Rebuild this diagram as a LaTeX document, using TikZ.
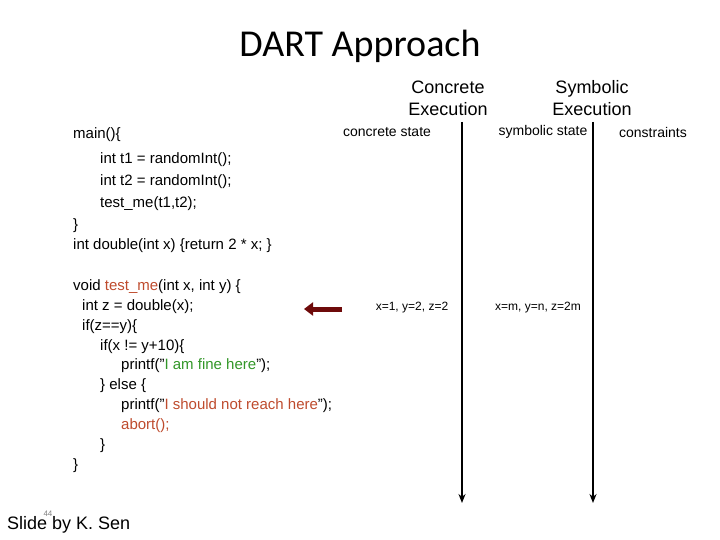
\documentclass[tikz,border=0pt]{standalone}
\usepackage{fontspec}
\setmainfont{Liberation Sans}
\newfontfamily\titlefont{Carlito}
\usetikzlibrary{arrows.meta}
\definecolor{codered}{RGB}{190,75,45}
\definecolor{codegreen}{RGB}{50,150,40}
\definecolor{arrowred}{RGB}{110,10,10}
\begin{document}
\begin{tikzpicture}[
        x=1pt, y=-1pt,
        code/.style={anchor=west, inner sep=0pt, font=\fontsize{15}{17}\selectfont},
        head/.style={align=center, font=\fontsize{18}{22}\selectfont},
        state/.style={inner sep=0pt, font=\fontsize{14}{16}\selectfont},
        value/.style={inner sep=0pt, font=\fontsize{12}{14}\selectfont},
        timeline/.style={line width=1.8pt, -{Stealth[length=9pt,width=7pt]}}
    ]
        \useasboundingbox (0,0) rectangle (720,540);

        % Titel
        \node[font=\titlefont\fontsize{38}{42}\selectfont] (title) at (360,46) {DART Approach};

        % Code
        \node[code] (l1) at (73,135) {main()\{};
        \node[code] (l2) at (100,160) {int t1 = randomInt();};
        \node[code] (l3) at (100,182) {int t2 = randomInt();};
        \node[code] (l4) at (100,204) {test\_me(t1,t2);};
        \node[code] (l5) at (73,226) {\}};
        \node[code] (l6) at (73,246) {int double(int x) \{return 2 * x; \}};
        \node[code] (l7) at (73,287) {void \textcolor{codered}{test\_me}(int x, int y) \{};
        \node[code] (l8) at (82,307) {int z = double(x);};
        \node[code] (l9) at (82,327) {if(z==y)\{};
        \node[code] (l10) at (100,347) {if(x != y+10)\{};
        \node[code] (l11) at (121,366) {printf("\textcolor{codegreen}{I am fine here}");};
        \node[code] (l12) at (100,386) {\} else \{};
        \node[code] (l13) at (121,406) {printf("\textcolor{codered}{I should not reach here}");};
        \node[code] (l14) at (121,426) {\textcolor{codered}{abort();}};
        \node[code] (l15) at (100,446) {\}};
        \node[code] (l16) at (73,466) {\}};

        % Pfeil auf aktuelle Zeile
        \coordinate (ptrs) at (342,309);
        \coordinate (ptre) at (304,309);
        \draw[arrowred, line width=5pt, -{Triangle[length=9pt,width=13pt]}] (ptrs) -- (ptre);

        % Spalten
        \node[head] (conc) at (448,98) {Concrete\\Execution};
        \node[head] (symb) at (592,98) {Symbolic\\Execution};
        \node[state] (cstate) at (387,132) {concrete state};
        \node[state] (sstate) at (543,132) {symbolic state};
        \node[state] (cons) at (653,132) {constraints};

        \coordinate (c1) at (462,122);
        \coordinate (c2) at (462,503);
        \coordinate (s1) at (593,122);
        \coordinate (s2) at (593,503);
        \draw[timeline] (c1) -- (c2);
        \draw[timeline] (s1) -- (s2);

        \node[value] (cval) at (412,308) {x=1, y=2, z=2};
        \node[value] (sval) at (538,308) {x=m, y=n, z=2m};

        % Fusszeile
        \node[font=\fontsize{8}{9}\selectfont, text=gray] (num) at (48,514) {44};
        \node[anchor=west, inner sep=0pt, font=\fontsize{18}{20}\selectfont] (credit) at (7,525) {Slide by K. Sen};
\end{tikzpicture}
\end{document}
